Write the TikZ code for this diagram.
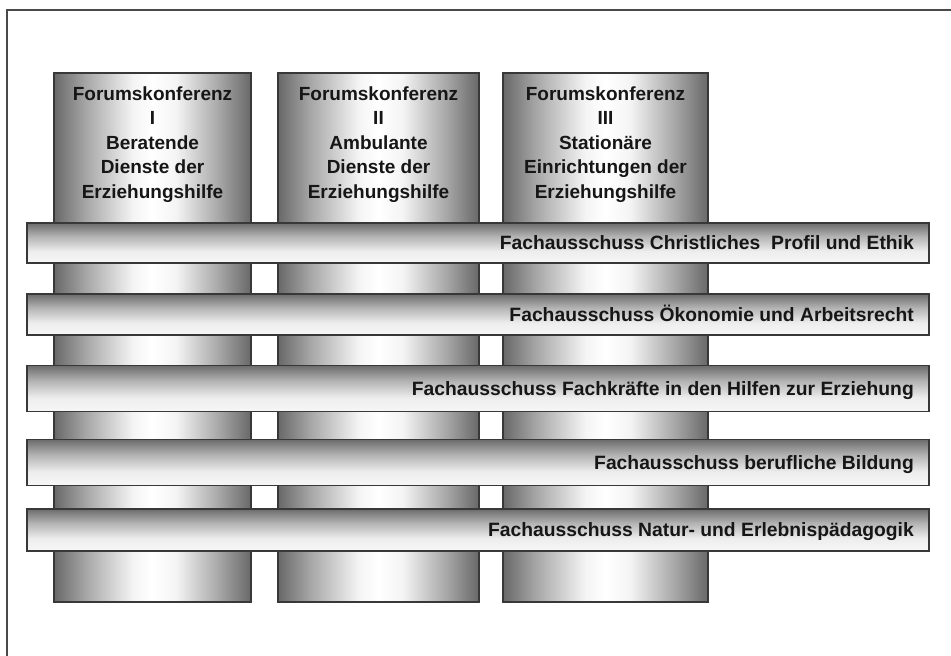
\documentclass[tikz,border=0pt]{standalone}
\usepackage{fontspec}
\setmainfont{Liberation Sans}
\usetikzlibrary{calc}
\definecolor{edgec}{HTML}{383838}
\definecolor{framec}{HTML}{4A4A4A}
\definecolor{txtc}{HTML}{161616}
\definecolor{cdark}{HTML}{686868}
\definecolor{cmid}{HTML}{A6A6A6}
\definecolor{clight}{HTML}{F4F4F4}
\definecolor{bdark}{HTML}{6C6C6C}
\definecolor{bmid}{HTML}{B4B4B4}
\definecolor{blight}{HTML}{F7F7F7}
\pgfdeclarehorizontalshading{colshade}{100bp}{color(0bp)=(cdark); color(25bp)=(cdark); color(33bp)=(cmid); color(45bp)=(clight); color(50bp)=(white); color(56bp)=(clight); color(67bp)=(cmid); color(75bp)=(cdark); color(100bp)=(cdark)}
\pgfdeclareverticalshading{barshade}{100bp}{color(0bp)=(blight); color(25bp)=(blight); color(40bp)=(white!93!black); color(58bp)=(bmid); color(75bp)=(bdark); color(100bp)=(bdark)}
\tikzset{
  colbox/.style={rectangle, draw=edgec, line width=1.3bp, shading=colshade, inner sep=0pt, outer sep=0pt},
  barbox/.style={rectangle, draw=edgec, line width=1.3bp, shading=barshade, inner sep=0pt, outer sep=0pt, minimum width=902bp},
  coltext/.style={anchor=north, align=center, inner sep=0pt, text=txtc, font=\fontsize{19bp}{24.5bp}\selectfont\bfseries},
  bartext/.style={anchor=base east, inner sep=0pt, text=txtc, font=\fontsize{19.3bp}{23bp}\selectfont\bfseries}
}
\begin{document}
\begin{tikzpicture}[x=1bp,y=-1bp]
\useasboundingbox (0,0) rectangle (951,656);
\fill[white] (0,0) rectangle (951,656);
\draw[framec, line width=1.5bp] (7,660) -- (7,10) -- (955,10);
% columns
\node[colbox, minimum width=197bp, minimum height=529bp] (c1) at (152.5,337.5) {};
\node[colbox, minimum width=201bp, minimum height=529bp] (c2) at (378.5,337.5) {};
\node[colbox, minimum width=205bp, minimum height=529bp] (c3) at (605.5,337.5) {};
\node[coltext] (t1) at ($(c1.north)+(0,13.5)$) {Forumskonferenz\\I\\Beratende\\Dienste der\\Erziehungshilfe};
\node[coltext] (t2) at ($(c2.north)+(0,13.5)$) {Forumskonferenz\\II\\Ambulante\\Dienste der\\Erziehungshilfe};
\node[coltext] (t3) at ($(c3.north)+(0,13.5)$) {Forumskonferenz\\III\\Stationäre\\Einrichtungen der\\Erziehungshilfe};
% bars
\node[barbox, minimum height=40bp] (b1) at (478,243) {};
\node[barbox, minimum height=41bp] (b2) at (478,314.5) {};
\node[barbox, minimum height=46bp] (b3) at (478,388.5) {};
\node[barbox, minimum height=46bp] (b4) at (478,462.5) {};
\node[barbox, minimum height=42bp] (b5) at (478,530) {};
\node[bartext] (l1) at ($(b1.east)+(-15,6.8)$) {Fachausschuss Christliches\ \ Profil und Ethik};
\node[bartext] (l2) at ($(b2.east)+(-15,6.8)$) {Fachausschuss Ökonomie und Arbeitsrecht};
\node[bartext] (l3) at ($(b3.east)+(-15,6.8)$) {Fachausschuss Fachkräfte in den Hilfen zur Erziehung};
\node[bartext] (l4) at ($(b4.east)+(-15,6.8)$) {Fachausschuss berufliche Bildung};
\node[bartext] (l5) at ($(b5.east)+(-15,6.8)$) {Fachausschuss Natur- und Erlebnispädagogik};
\end{tikzpicture}
\end{document}
